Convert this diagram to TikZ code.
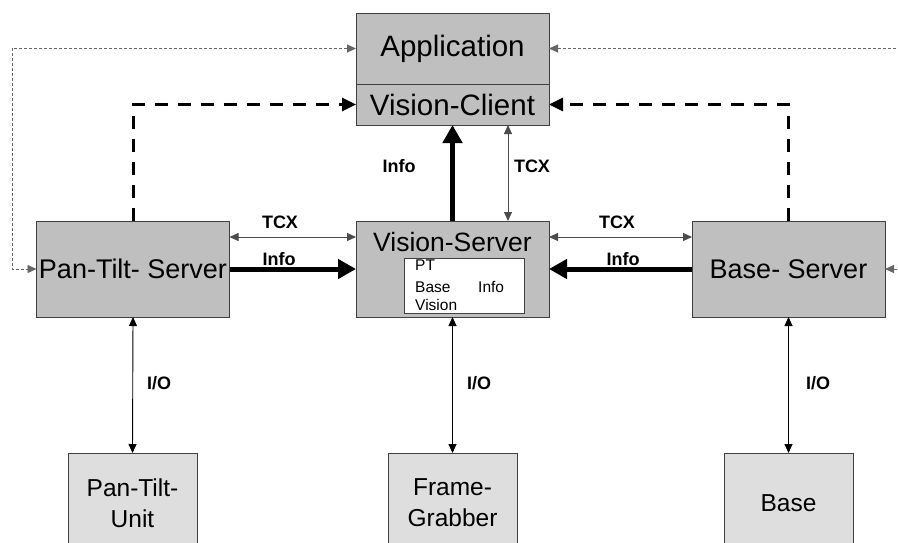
\documentclass[tikz,border=0pt]{standalone}
\usepackage{fontspec}
\setmainfont{Liberation Sans}
\usetikzlibrary{arrows.meta, positioning}
\tikzstyle{upper} = [draw=black!75, fill=black!25, rectangle, inner sep=0pt, outer sep=0pt, minimum width=193pt, font=\fontsize{29.5}{34}\selectfont]
\tikzstyle{server} = [upper, minimum height=96pt, font=\fontsize{27}{31}\selectfont]
\tikzstyle{device} = [draw=black!75, fill=black!13, rectangle, inner sep=0pt, outer sep=0pt, minimum width=129pt, minimum height=100pt, align=center, font=\fontsize{24.5}{31}\selectfont]
\tikzstyle{memo} = [draw=black!75, fill=white, rectangle, inner sep=0pt, minimum width=120pt, minimum height=55pt]
\tikzstyle{memotext} = [inner sep=0pt, anchor=base west, font=\fontsize{15.5}{18}\selectfont]
\tikzstyle{lbl} = [inner sep=0pt, font=\bfseries\fontsize{18}{20}\selectfont]
\tikzstyle{iolink} = [draw=black, line width=0.9pt, >={Triangle[length=9pt,width=8pt]}, <->]
\tikzstyle{tcxlink} = [draw=black!70, line width=0.9pt, >={Triangle[length=9pt,width=8pt]}, <->]
\tikzstyle{infolink} = [draw=black, line width=5pt, >={Triangle[length=18pt,width=19pt]}, ->]
\tikzstyle{ctrllink} = [draw=black, line width=3pt, dash pattern=on 13pt off 10pt, >={Triangle[length=14pt,width=13pt]}, ->]
\tikzstyle{statuslink} = [draw=black!60, line width=0.9pt, dash pattern=on 3pt off 2pt, >={Triangle[length=9pt,width=8pt]}, <->]

\begin{document}
\begin{tikzpicture}[x=1pt, y=-1pt]
	\useasboundingbox (0,0) rectangle (898,542);
	\clip (0,0) rectangle (898,542);

	\node [upper, minimum height=71pt] (app) at (452.5,48.5) {Application};
	\node [upper, minimum height=41pt, below=0pt of app] (client) {Vision-Client};

	\node [server] (pts) at (133,269) {Pan-Tilt- Server};
	\node [server] (vs) at (452.5,269) {};
	\node [server] (bs) at (788.5,269) {Base- Server};
	\node [inner sep=0pt, anchor=base, font=\fontsize{26.5}{31}\selectfont] (vstitle) at (452.5,251) {Vision-Server};
	\node [memo] (memo) at (464,285.5) {};
	\node [memotext] (mpt) at (415,270) {PT};
	\node [memotext] (mbase) at (415,292) {Base};
	\node [memotext] (mvision) at (415,310) {Vision};
	\node [memotext] (minfo) at (478,292) {Info};

	\node [device] (ptu) at (132.5,503) {Pan-Tilt-\\Unit};
	\node [device] (fg) at (452.5,503) {Frame-\\Grabber};
	\node [device] (base) at (788.5,503) {Base};

	\coordinate (lcorner) at (12,48.5);
	\coordinate (rcorner) at (912,48.5);
	\draw [statuslink] (app.west) -- (lcorner) |- (pts.west);
	\draw [statuslink] (app.east) -- (rcorner) |- (bs.east);

	\draw [ctrllink] (pts.north) |- (client.west);
	\draw [ctrllink] (bs.north) |- (client.east);

	\draw [infolink] (vs.north) -- (client.south);
	\draw [tcxlink] ([xshift=55.5pt]vs.north) -- ([xshift=55.5pt]client.south);
	\node [lbl] (linfo) at (399,166) {Info};
	\node [lbl] (ltcx) at (532,166) {TCX};

	\draw [tcxlink] ([yshift=32pt]pts.east) -- ([yshift=32pt]vs.west);
	\draw [infolink] (pts.east) -- (vs.west);
	\draw [tcxlink] ([yshift=32pt]vs.east) -- ([yshift=32pt]bs.west);
	\draw [infolink] (bs.west) -- (vs.east);
	\node [lbl] (ltcxl) at (280,222) {TCX};
	\node [lbl] (linfol) at (279,259) {Info};
	\node [lbl] (ltcxr) at (617,222) {TCX};
	\node [lbl] (linfor) at (623,259) {Info};

	\draw [iolink] (pts.south) -- (ptu.north);
	\draw [iolink] (vs.south) -- (fg.north);
	\draw [iolink] (bs.south) -- (base.north);
	\node [lbl, anchor=west] (liol) at (147,383) {I/O};
	\node [lbl, anchor=west] (liom) at (467,383) {I/O};
	\node [lbl, anchor=west] (lior) at (806,383) {I/O};
\end{tikzpicture}
\end{document}
